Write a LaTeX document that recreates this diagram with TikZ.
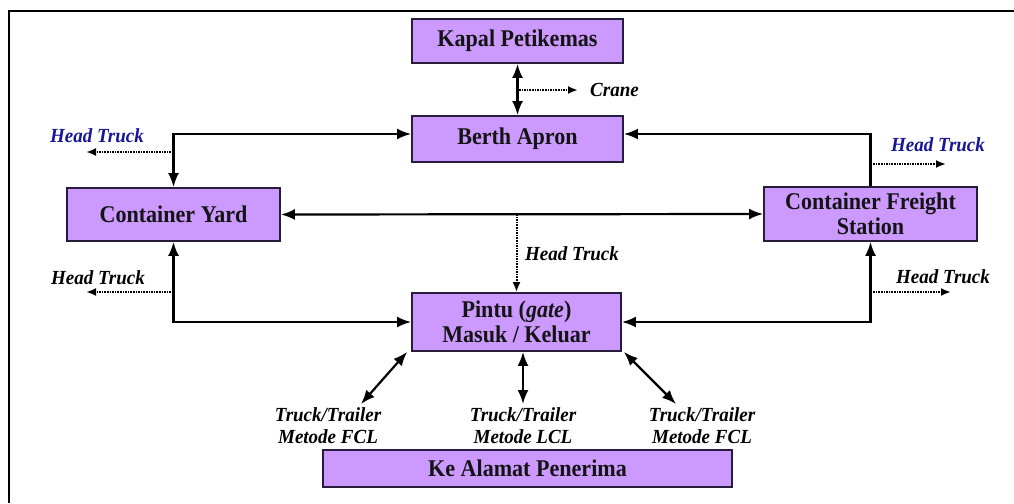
\documentclass[tikz,border=0pt]{standalone}
\usepackage{fontspec}
\setmainfont{Liberation Serif}
\newfontfamily\boxfont[FakeStretch=0.92]{Liberation Serif}
\newfontfamily\lblfont[FakeStretch=0.95]{Liberation Serif}
\usetikzlibrary{arrows.meta}
\definecolor{boxfill}{RGB}{204,153,255}
\definecolor{boxline}{RGB}{40,28,60}
\definecolor{htblue}{RGB}{22,22,150}
\tikzset{
  box/.style={draw=boxline, fill=boxfill, line width=1.8pt, inner sep=0pt, align=center,
    font=\boxfont\fontsize{24}{25.5}\selectfont\bfseries, text=black!92},
  lbl/.style={inner sep=0pt, align=center, font=\lblfont\fontsize{20}{22}\selectfont\bfseries\itshape},
  conn/.style={line width=2.2pt, {Latex[length=14pt,width=11pt]}-{Latex[length=14pt,width=11pt]}},
  conn1/.style={line width=2.2pt, -{Latex[length=14pt,width=11pt]}},
  dotarrow/.style={line width=2pt, dash pattern=on 1.6pt off 1pt, -{Latex[length=10pt,width=8pt]}}
}
\begin{document}
\begin{tikzpicture}[x=1pt,y=-1pt]
\useasboundingbox (0,0) rectangle (1014,503);
\draw[line width=1.8pt] (9,503) -- (9,11) -- (1014,11);

\node[box, minimum width=211pt, minimum height=44pt] (kapal) at (517.5,41) {Kapal Petikemas};
\node[box, minimum width=211pt, minimum height=46pt] (berth) at (517.5,139) {Berth Apron};
\node[box, minimum width=213pt, minimum height=53pt] (cy) at (173.5,214.5) {Container Yard};
\node[box, minimum width=213pt, minimum height=54pt] (cfs) at (870.5,214) {Container Freight\\Station};
\node[box, minimum width=209pt, minimum height=58pt] (pintu) at (516.5,322) {Pintu (\textit{gate})\\Masuk / Keluar};
\node[box, minimum width=409pt, minimum height=37pt] (alamat) at (527.5,468.5) {Ke Alamat Penerima};

% top
\draw[conn] (kapal.south) -- (berth.north);
\coordinate (cr0) at (519,90);
\coordinate (cr1) at (578,90);
\draw[dotarrow] (cr0) -- (cr1);
\node[lbl, anchor=west] (crane) at (590,90) {Crane};

% left upper
\draw[conn] (cy.north) |- ([yshift=5pt]berth.west);
\coordinate (lt0) at (173.5,152);
\coordinate (lt1) at (86,152);
\draw[dotarrow] (lt0) -- (lt1);
\node[lbl, text=htblue] (lht1) at (97,136) {Head Truck};

% right upper
\draw[conn1] (cfs.north) |- ([yshift=5pt]berth.east);
\coordinate (rt0) at (870.5,164);
\coordinate (rt1) at (946,164);
\draw[dotarrow] (rt0) -- (rt1);
\node[lbl, text=htblue] (rht1) at (938,145) {Head Truck};

% middle
\draw[conn] (cy.east) -- (cfs.west);
\coordinate (mid) at (pintu.north |- cfs.west);
\draw[dotarrow] (mid) -- (pintu.north);
\node[lbl] (mht) at (572,254) {Head Truck};

% lower left / right
\draw[conn] (cy.south) |- (pintu.west);
\coordinate (lb0) at (173.5,292);
\coordinate (lb1) at (86,292);
\draw[dotarrow] (lb0) -- (lb1);
\node[lbl] (lht2) at (98,278) {Head Truck};

\draw[conn] (cfs.south) |- (pintu.east);
\coordinate (rb0) at (870.5,292);
\coordinate (rb1) at (951,292);
\draw[dotarrow] (rb0) -- (rb1);
\node[lbl] (rht2) at (943,277) {Head Truck};

% bottom
\node[lbl] (t1) at (328,426) {Truck/Trailer\\Metode FCL};
\node[lbl] (t2) at (523,426) {Truck/Trailer\\Metode LCL};
\node[lbl] (t3) at (702,426) {Truck/Trailer\\Metode FCL};
\coordinate (b1) at (361,404);
\coordinate (b2) at (523,404);
\coordinate (b3) at (676,404);
\draw[conn] ([xshift=-4pt]pintu.south west) -- (b1);
\draw[conn] (pintu.south -| b2) -- (b2);
\draw[conn] ([xshift=2pt]pintu.south east) -- (b3);
\end{tikzpicture}
\end{document}
